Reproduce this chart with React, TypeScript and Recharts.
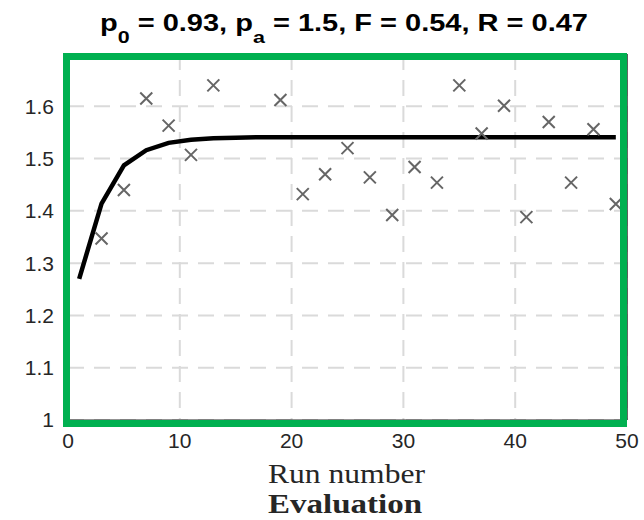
import {
  ComposedChart, Line, Scatter, XAxis, YAxis, CartesianGrid, ReferenceLine,
} from 'recharts'

// measured runs (x markers)
const runNumbers = [3, 5, 7, 9, 11, 13, 19, 21, 23, 25, 27, 29, 31, 33, 35, 37, 39, 41, 43, 45, 47, 49]
const runValues = [
  1.347, 1.44, 1.615, 1.563, 1.507, 1.64, 1.612, 1.432, 1.47, 1.52, 1.464,
  1.392, 1.484, 1.454, 1.64, 1.548, 1.601, 1.388, 1.57, 1.454, 1.556, 1.413,
]

// fitted curve
const fitRuns = [1, 3, 5, 7, 9, 11, 13, 15, 17, 19, 21, 23, 25, 27, 29, 31, 33, 35, 37, 39, 41, 43, 45, 47, 49]
const fitValues = [
  1.27, 1.414, 1.487, 1.516, 1.53, 1.536, 1.539, 1.54, 1.541, 1.541, 1.541, 1.541, 1.541,
  1.541, 1.541, 1.541, 1.541, 1.541, 1.541, 1.541, 1.541, 1.541, 1.541, 1.541, 1.541,
]

const xTicks = [0, 10, 20, 30, 40, 50]
const yTicks = [1, 1.1, 1.2, 1.3, 1.4, 1.5, 1.6]

const runData = runNumbers.map((x, i) => ({ x, y: runValues[i] }))
const fitData = fitRuns.map((x, i) => ({ x, y: fitValues[i] }))

const tickStyle = { fontSize: 21, fill: '#262626', fontFamily: '"Liberation Sans", Arial, sans-serif' }
const serif = '"Liberation Serif", "Times New Roman", serif'

const Cross = (props: any) => {
  const { cx, cy } = props
  const r = 6
  return (
    <path
      d={`M${cx - r},${cy - r}L${cx + r},${cy + r}M${cx - r},${cy + r}L${cx + r},${cy - r}`}
      stroke="#666666"
      strokeWidth={2}
      fill="none"
    />
  )
}

export default function App() {
  return (
    <div style={{ position: 'absolute', left: 0, top: 0, width: 644, height: 520, background: '#fff' }}>
      <ComposedChart width={644} height={520} margin={{ top: 54, right: 17, left: 8, bottom: 70 }}>
        <CartesianGrid stroke="#dadada" strokeWidth={2} strokeDasharray="16 10" />
        <XAxis
          type="number"
          dataKey="x"
          domain={[0, 50]}
          ticks={xTicks}
          height={30}
          tick={tickStyle}
          tickSize={0}
          tickMargin={13}
          axisLine={{ stroke: '#262626' }}
          allowDataOverflow
        />
        <YAxis
          type="number"
          domain={[1, 1.7]}
          ticks={yTicks}
          width={60}
          tick={tickStyle}
          tickSize={0}
          tickMargin={14}
          axisLine={false}
          tickFormatter={(v: number) => String(Number(v.toFixed(1)))}
          allowDataOverflow
        />
        <ReferenceLine x={50} stroke="#333" strokeWidth={1.5} />
        <Line
          data={fitData}
          dataKey="y"
          stroke="#000"
          strokeWidth={4.5}
          dot={false}
          isAnimationActive={false}
        />
        <Scatter data={runData} dataKey="y" shape={Cross} isAnimationActive={false} />
      </ComposedChart>

      <div
        style={{
          position: 'absolute', left: 63, top: 53, width: 564, height: 374,
          border: '7px solid #00b050', boxSizing: 'border-box', pointerEvents: 'none',
        }}
      />

      <svg width={644} height={520} style={{ position: 'absolute', left: 0, top: 0, pointerEvents: 'none' }}>
        <text
          x={100}
          y={31}
          textLength={488}
          lengthAdjust="spacingAndGlyphs"
          fontFamily='"Liberation Sans", Arial, sans-serif'
          fontWeight="bold"
          fontSize={23}
          fill="#000"
        >
          p<tspan dy={12} fontSize={17}>0</tspan>
          <tspan dy={-12}> = 0.93, p</tspan>
          <tspan dy={12} fontSize={17}>a</tspan>
          <tspan dy={-12}> = 1.5, F = 0.54, R = 0.47</tspan>
        </text>
        <text x={268} y={483} textLength={157} lengthAdjust="spacingAndGlyphs" fontFamily={serif} fontSize={28} fill="#262626">
          Run number
        </text>
        <text x={268} y={513} textLength={154} lengthAdjust="spacingAndGlyphs" fontFamily={serif} fontWeight="bold" fontSize={27} fill="#262626">
          Evaluation
        </text>
      </svg>
    </div>
  )
}
